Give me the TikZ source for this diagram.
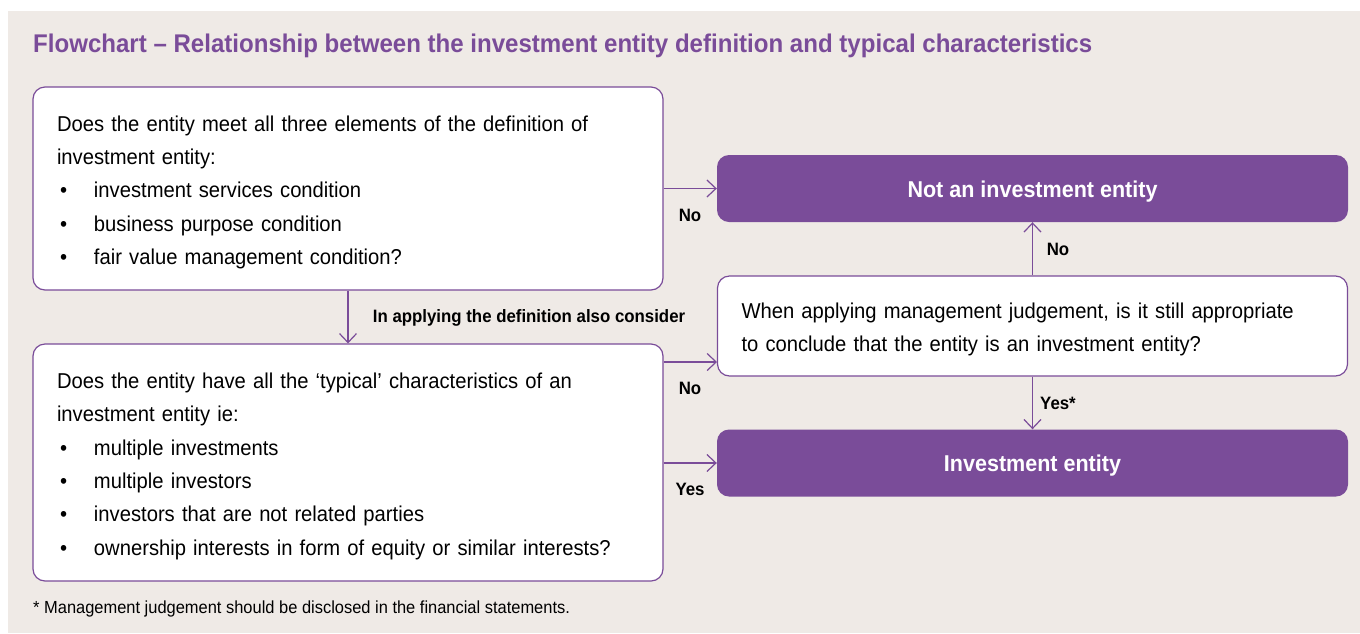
\documentclass[tikz,border=0pt]{standalone}
\usepackage{fontspec}
\setmainfont{Liberation Sans}[FakeStretch=0.94]
\usetikzlibrary{arrows.meta}
\definecolor{kpurple}{RGB}{122,76,153}
\definecolor{kbeige}{RGB}{239,234,230}
\newcommand{\bul}[1]{\hspace*{3pt}\makebox[34pt][l]{\textbullet}#1}
\newcommand{\topgap}{\rule{0pt}{23pt}}
\begin{document}
\begin{tikzpicture}[x=1pt,y=-1pt,
    box/.style={draw=kpurple,line width=1.2pt,fill=white,rounded corners=12pt,
        minimum width=630pt,inner xsep=24pt,text width=582pt,align=left,
        font=\fontsize{21.5}{33.3}\selectfont},
    result/.style={fill=kpurple,rounded corners=12pt,minimum width=631pt,
        minimum height=67pt,text height=19pt,text depth=2pt,text=white,
        font=\fontsize{22.9}{26}\selectfont\bfseries},
    arr/.style={-{Straight Barb[length=9pt,width=17pt]},draw=kpurple,line width=1.2pt},
    lbl/.style={font=\fontsize{17.9}{20}\selectfont\bfseries,inner sep=0pt}]
    \useasboundingbox (0,0) rectangle (1360,633);
    \fill[kbeige] (8,11) rectangle (1360,633);
    % title and footnote
    \node[anchor=west,inner sep=0pt,text=kpurple,font=\fontsize{25.6}{28}\selectfont\bfseries] (title) at (33,46)
        {Flowchart -- Relationship between the investment entity definition and typical characteristics};
    \node[anchor=west,inner sep=0pt,font=\fontsize{17.5}{20}\selectfont] (note) at (33,609)
        {* Management judgement should be disclosed in the financial statements.};
    % boxes
    \node[box,minimum height=203pt] (definition) at (348,188.5) {\topgap Does the entity meet all three elements of the definition of\\
        investment entity:\\
        \bul{investment services condition}\\
        \bul{business purpose condition}\\
        \bul{fair value management condition?}};
    \node[box,minimum height=237pt] (typical) at (348,462.5) {\topgap Does the entity have all the `typical' characteristics of an\\
        investment entity ie:\\
        \bul{multiple investments}\\
        \bul{multiple investors}\\
        \bul{investors that are not related parties}\\
        \bul{ownership interests in form of equity or similar interests?}};
    \node[box,minimum height=100pt] (judgement) at (1032.5,326) {\topgap When applying management judgement, is it still appropriate\\
        to conclude that the entity is an investment entity?};
    \node[result] (notie) at (1032.5,188.5) {Not an investment entity};
    \node[result] (ie) at (1032.5,463) {Investment entity};
    \coordinate (jin) at (717,362);
    % connectors
    \draw[arr] (definition.east) -- (notie.west);
    \draw[arr] (definition.south) -- (typical.north);
    \draw[arr] (typical.east |- jin) -- (jin);
    \draw[arr] (typical.east |- ie.west) -- (ie.west);
    \draw[arr] (judgement.north) -- (notie.south);
    \draw[arr] (judgement.south) -- (ie.north);
    % labels
    \node[lbl] (no1) at (690,215) {No};
    \node[lbl] (consider) at (529,318) {In applying the definition also consider};
    \node[lbl] (no2) at (690,388) {No};
    \node[lbl] (yes1) at (690,489) {Yes};
    \node[lbl] (no3) at (1058,249) {No};
    \node[lbl] (yes2) at (1058,403) {Yes*};
\end{tikzpicture}
\end{document}
